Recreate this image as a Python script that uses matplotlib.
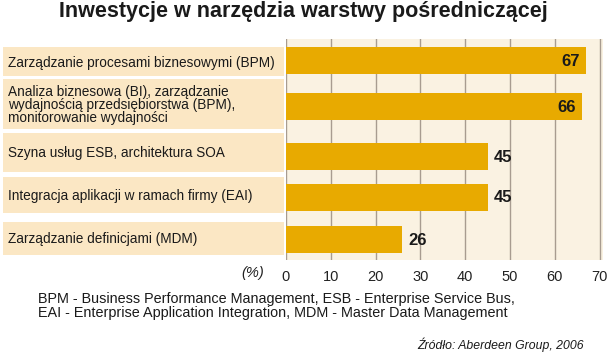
import numpy as np
import matplotlib
matplotlib.use("Agg")
import matplotlib.pyplot as plt

plt.rcParams['font.family'] = ['Liberation Sans', 'DejaVu Sans']

# data
categories = ["Zarządzanie procesami biznesowymi (BPM)",
              "Analiza biznesowa (BI), zarządzanie\nwydajnością przedsiębiorstwa (BPM),\nmonitorowanie wydajności",
              "Szyna usług ESB, architektura SOA",
              "Integracja aplikacji w ramach firmy (EAI)",
              "Zarządzanie definicjami (MDM)"]
values = [67, 66, 45, 45, 26]
xticks = [0, 10, 20, 30, 40, 50, 60, 70]

title = "Inwestycje w narzędzia warstwy pośredniczącej"
note = ("BPM - Business Performance Management, ESB - Enterprise Service Bus,\n"
        "EAI - Enterprise Application Integration, MDM - Master Data Management")
source = "Źródło: Aberdeen Group, 2006"

# layout (pixel rows, y measured from top of figure)
W, H = 609, 357
bar_y = [60.5, 106.5, 156, 197, 239.5]
bar_h = 27
box_y = [61.5, 104, 152.5, 195, 238.5]
box_h = [29, 50, 39, 36, 33]
top, bot = 39, 260

bar_col = "#e8aa00"
panel_col = "#faf2e2"
box_col = "#fbe7c4"
grid_col = "#a89c90"

fig = plt.figure(figsize=(W/100, H/100), dpi=100)

ax = fig.add_axes([286/W, 1-bot/H, (603-286)/W, (bot-top)/H])
ax.set_facecolor(panel_col)
ax.set_xlim(0, (603-286)/4.48)
ax.set_ylim(bot, top)
for x in xticks:
    ax.axvline(x, color=grid_col, lw=1, zorder=1)
ax.barh(bar_y, values, height=bar_h, color=bar_col, zorder=2)
for y, v in zip(bar_y, values):
    if v > 60:
        ax.text(v - 1.4, y + 1, str(v), ha='right', va='center', fontsize=12,
                fontweight='bold', color='#1a1a1a', zorder=3)
    else:
        ax.text(v + 1.4, y + 1, str(v), ha='left', va='center', fontsize=12,
                fontweight='bold', color='#1a1a1a', zorder=3)
ax.set_xticks(xticks)
ax.set_xticklabels([str(t) for t in xticks], fontsize=10.5, color='#222222')
ax.tick_params(axis='x', length=0, pad=7)
ax.set_yticks([])
for s in ax.spines.values():
    s.set_visible(False)

# left label boxes
lx = fig.add_axes([3/W, 1-bot/H, (284-3)/W, (bot-top)/H])
lx.set_xlim(0, 1)
lx.set_ylim(bot, top)
lx.barh(box_y, [1]*len(box_y), height=box_h, color=box_col)
for y, c in zip(box_y, categories):
    lx.text(0.018, y + 1, c, ha='left', va='center', fontsize=9.8, color='#1a1a1a',
            linespacing=0.95)
lx.axis('off')

fig.text(303/W, 1-12/H, title, ha='center', va='center', fontsize=15.5,
         fontweight='bold', color='#1a1a1a')
fig.text(264/W, 1-273/H, "(%)", ha='right', va='center', fontsize=10.5,
         style='italic', color='#222222')
fig.text(38/W, 1-306/H, note, ha='left', va='center', fontsize=10.4,
         color='#1a1a1a', linespacing=1.0)
fig.text(584/W, 1-345/H, source, ha='right', va='center', fontsize=8.8,
         style='italic', color='#1a1a1a')

fig.savefig("out.png", dpi=100, facecolor='white')
